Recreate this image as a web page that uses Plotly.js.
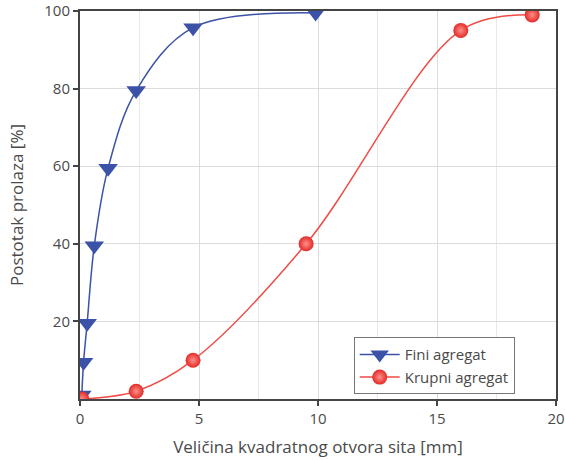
<!DOCTYPE html>
<html><head><meta charset="utf-8">
<script src="https://cdn.plot.ly/plotly-3.0.1.min.js"></script>
<style>body{margin:0}#c{width:565px;height:460px}</style>
</head><body><div id="c"></div>
<script>
const fineX = [0.075, 0.15, 0.3, 0.6, 1.18, 2.36, 4.75, 9.9];
const fineY = [1, 9.5, 19.5, 39.5, 59.5, 79.5, 95.7, 99.5];
const coarseX = [0.075, 2.36, 4.75, 9.5, 16, 19];
const coarseY = [0, 2, 10, 40, 95, 99];
const seriesNames = ['Fini agregat', 'Krupni agregat'];
const xTicks = [0, 5, 10, 15, 20];
const yTicks = [20, 40, 60, 80, 100];

const txt = '#4a4a4a';
const traces = [
  {x: fineX, y: fineY, name: seriesNames[0], mode: 'lines+markers',
   line: {shape: 'spline', smoothing: 1, color: '#3b52a8', width: 1.5},
   marker: {symbol: 'triangle-down', size: 17, color: '#3b52a8'}},
  {x: coarseX, y: coarseY, name: seriesNames[1], mode: 'lines+markers',
   line: {shape: 'spline', smoothing: 1, color: '#f04a44', width: 1.5},
   marker: {symbol: 'circle', size: 15, color: '#e32a26', gradient: {type: 'radial', color: '#ff8f8b'}}}
];
const layout = {
  width: 565, height: 460,
  margin: {l: 80, r: 9, t: 11, b: 61},
  paper_bgcolor: 'white', plot_bgcolor: 'white',
  font: {family: 'Open Sans, sans-serif', size: 15, color: txt},
  showlegend: true,
  legend: {x: 0.575, y: 0.012, xanchor: 'left', yanchor: 'bottom',
    bordercolor: '#777', borderwidth: 1, bgcolor: 'white',
    font: {size: 15, color: txt}, tracegroupgap: 0, itemwidth: 40},
  xaxis: {range: [0, 20], tickvals: xTicks, ticktext: xTicks.map(String),
    showline: true, linecolor: '#444', linewidth: 2, mirror: true,
    ticks: 'outside', ticklen: 5, tickcolor: '#444', tickwidth: 1.5,
    showgrid: true, gridcolor: '#dcdcdc', zeroline: false,
    minor: {dtick: 2.5, tick0: 0, showgrid: true, gridcolor: '#e8e8e8'},
    title: {text: 'Veličina kvadratnog otvora sita [mm]', font: {size: 17, color: txt}, standoff: 14}},
  yaxis: {range: [0, 100], tickvals: yTicks, ticktext: yTicks.map(String),
    showline: true, linecolor: '#444', linewidth: 2, mirror: true,
    ticks: 'outside', ticklen: 5, tickcolor: '#444', tickwidth: 1.5,
    showgrid: true, gridcolor: '#dcdcdc', zeroline: false,
    title: {text: 'Postotak prolaza [%]', font: {size: 17, color: txt}, standoff: 16}}
};
Plotly.newPlot('c', traces, layout, {displayModeBar: false});
</script></body></html>
